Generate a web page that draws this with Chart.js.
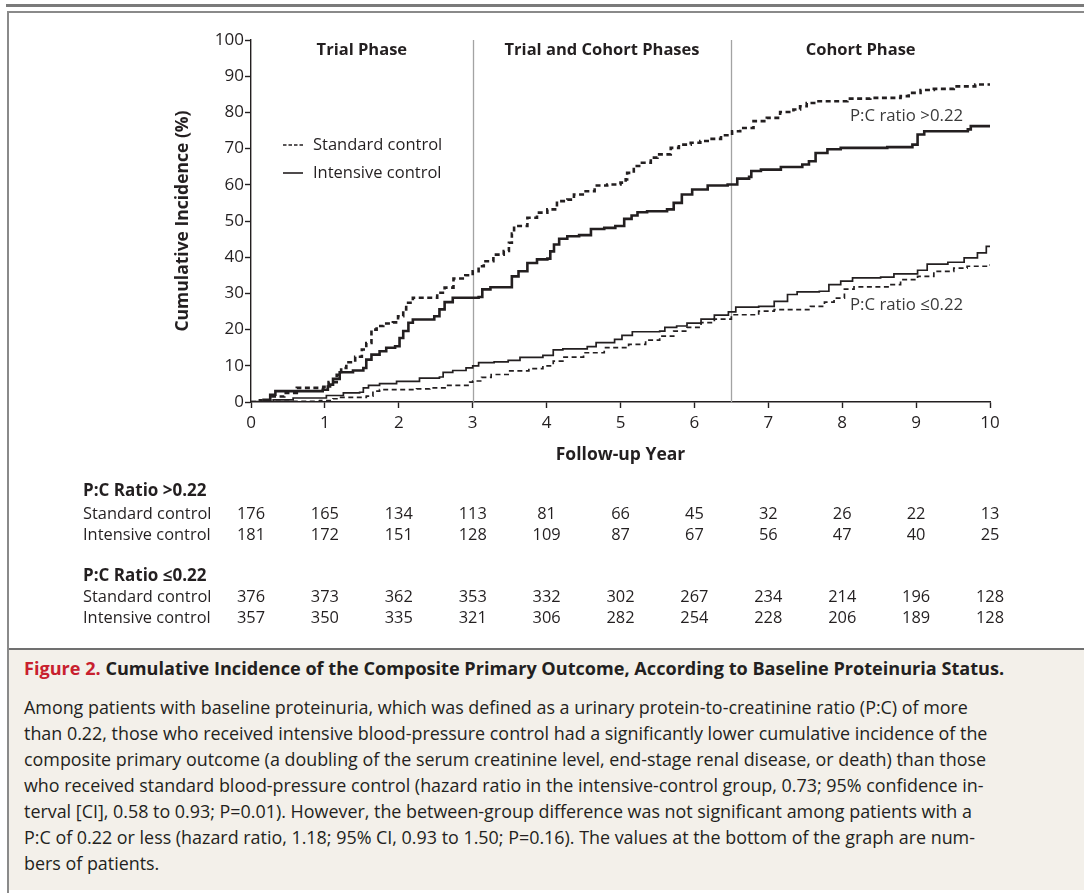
<!DOCTYPE html>
<html>
<head>
<meta charset="utf-8">
<script src="https://cdn.jsdelivr.net/npm/chart.js@4.4.1/dist/chart.umd.min.js"></script>
<style>
  html, body { margin: 0; padding: 0; background: #fff; }
  body { width: 1084px; height: 893px; position: relative; overflow: hidden; font-family: "Open Sans", "Noto Sans", sans-serif; color: #231f20; }
  #topline { position: absolute; left: 6px; right: 0; top: 4px; height: 3px; background: #7a7a7a; }
  #frame { position: absolute; left: 7px; right: -4px; top: 11px; bottom: -4px; border-left: 2px solid #8a8a8a; border-top: 2px solid #8a8a8a; }
  #chartbox { position: absolute; left: 9px; top: 14px; width: 1075px; height: 634px; }
  #caption { position: absolute; left: 9px; right: 0; top: 648px; bottom: 3px; background: #f3f0ea; border-top: 2px solid #707070; }
  #caption div { position: absolute; left: 15px; white-space: nowrap; font-size: 17.9px; line-height: 26px; }
  #caption .title { font-weight: bold; font-size: 18.1px; }
  #caption .fig { color: #c8202e; }
</style>
</head>
<body>
<div id="topline"></div>
<div id="frame"></div>
<div id="chartbox"><canvas id="kmChart" width="1075" height="634"></canvas></div>
<div id="caption">
  <div class="title" style="top:5px"><span class="fig">Figure 2.</span> Cumulative Incidence of the Composite Primary Outcome, According to Baseline Proteinuria Status.</div>
  <div style="top:44px">Among patients with baseline proteinuria, which was defined as a urinary protein-to-creatinine ratio (P:C) of more</div>
  <div style="top:70px">than 0.22, those who received intensive blood-pressure control had a significantly lower cumulative incidence of the</div>
  <div style="top:96px">composite primary outcome (a doubling of the serum creatinine level, end-stage renal disease, or death) than those</div>
  <div style="top:122px">who received standard blood-pressure control (hazard ratio in the intensive-control group, 0.73; 95% confidence in-</div>
  <div style="top:148px">terval [CI], 0.58 to 0.93; P=0.01). However, the between-group difference was not significant among patients with a</div>
  <div style="top:174px">P:C of 0.22 or less (hazard ratio, 1.18; 95% CI, 0.93 to 1.50; P=0.16). The values at the bottom of the graph are num-</div>
  <div style="top:200px">bers of patients.</div>
</div>
<script>
// Follow-up years shown on the x axis and in the at-risk table
const yearTicks = [0, 1, 2, 3, 4, 5, 6, 7, 8, 9, 10];
const phaseBreaks = [3, 6.5];
const phaseNames = ['Trial Phase', 'Trial and Cohort Phases', 'Cohort Phase'];
const phaseCenters = [1.5, 4.75, 8.25];

// P:C ratio >0.22, standard control (dashed, heavy)
const highStdYears = [0, 0.12, 0.26, 0.45, 0.62, 0.98, 1.05, 1.16, 1.22, 1.29, 1.41, 1.50, 1.56, 1.63, 1.70, 1.79, 1.92, 1.99, 2.06, 2.10, 2.19, 2.52, 2.62, 2.74, 2.90, 3.00, 3.08, 3.15, 3.28, 3.42, 3.49, 3.53, 3.56, 3.74, 3.87, 4.01, 4.14, 4.28, 4.37, 4.51, 4.65, 4.82, 5.00, 5.07, 5.09, 5.18, 5.29, 5.41, 5.50, 5.68, 5.79, 5.95, 6.08, 6.20, 6.36, 6.51, 6.62, 6.80, 6.98, 7.16, 7.34, 7.43, 7.52, 7.66, 8.07, 8.38, 8.79, 8.90, 9.06, 9.24, 9.51, 9.80, 10.0];
const highStdVals = [0, 0.5, 1.5, 2.5, 3.9, 4.2, 5.5, 7.5, 9.4, 11.0, 12.5, 14.5, 16.3, 20.0, 21.0, 21.7, 22.0, 23.7, 25.6, 27.4, 28.8, 30.2, 31.6, 34.1, 35.0, 36.1, 37.5, 38.9, 40.7, 41.7, 44.0, 46.5, 48.6, 50.9, 52.3, 53.2, 55.5, 55.9, 57.3, 58.2, 59.8, 60.1, 60.6, 61.5, 63.3, 65.2, 66.1, 67.5, 68.4, 70.2, 71.1, 71.6, 72.1, 72.7, 73.7, 74.8, 75.7, 77.6, 78.5, 80.1, 80.8, 81.7, 82.6, 83.1, 83.8, 84.0, 84.5, 85.4, 86.2, 86.5, 87.2, 87.7, 87.7];

// P:C ratio >0.22, intensive control (solid, heavy)
const highIntYears = [0, 0.17, 0.26, 0.33, 0.97, 1.04, 1.07, 1.11, 1.20, 1.38, 1.52, 1.56, 1.63, 1.74, 1.83, 1.95, 2.01, 2.06, 2.13, 2.19, 2.48, 2.55, 2.62, 2.73, 3.08, 3.13, 3.24, 3.49, 3.53, 3.62, 3.74, 3.87, 4.01, 4.05, 4.10, 4.17, 4.28, 4.44, 4.60, 4.78, 4.93, 5.05, 5.15, 5.23, 5.36, 5.63, 5.72, 5.83, 5.97, 6.18, 6.45, 6.58, 6.74, 6.77, 6.90, 7.17, 7.46, 7.55, 7.64, 7.80, 7.98, 8.61, 8.95, 9.02, 9.11, 9.70, 9.74, 10.0];
const highIntVals = [0, 0.6, 2.0, 3.0, 3.4, 4.3, 4.8, 6.4, 8.2, 8.7, 9.4, 11.7, 13.1, 14.0, 15.0, 15.4, 17.7, 19.6, 21.9, 22.8, 23.7, 25.6, 27.6, 28.8, 29.0, 31.1, 31.7, 31.7, 34.7, 36.1, 38.4, 39.4, 39.6, 41.6, 43.5, 45.1, 45.8, 46.1, 47.8, 48.1, 48.6, 50.6, 51.5, 52.4, 52.7, 53.2, 55.0, 57.3, 58.7, 59.8, 60.1, 61.7, 62.2, 63.8, 64.2, 64.9, 65.6, 66.5, 68.8, 69.8, 70.2, 70.4, 71.1, 73.9, 74.8, 75.3, 76.2, 76.4];

// P:C ratio <=0.22, standard control (dashed, light)
const lowStdYears = [0, 0.30, 0.93, 1.11, 1.20, 1.56, 1.65, 1.74, 2.24, 2.42, 2.64, 2.96, 3.00, 3.12, 3.25, 3.48, 3.76, 3.95, 4.09, 4.22, 4.50, 4.78, 5.11, 5.34, 5.53, 5.72, 5.90, 6.09, 6.27, 6.50, 6.87, 7.08, 7.57, 7.76, 7.89, 8.03, 8.16, 8.66, 8.79, 9.02, 9.24, 9.51, 9.69, 10.0];
const lowStdVals = [0, 0.2, 0.4, 0.9, 1.3, 1.6, 3.0, 3.4, 3.6, 3.9, 4.6, 5.5, 5.8, 6.8, 7.6, 8.6, 9.2, 10.0, 11.3, 12.4, 13.6, 15.0, 15.9, 17.1, 18.2, 19.6, 20.6, 21.9, 22.9, 24.1, 25.1, 25.5, 26.4, 27.6, 28.7, 31.2, 31.8, 32.4, 33.8, 34.7, 36.1, 37.0, 37.5, 38.0];

// P:C ratio <=0.22, intensive control (solid, light)
const lowIntYears = [0, 0.30, 0.57, 1.02, 1.25, 1.47, 1.52, 1.59, 1.74, 1.97, 2.28, 2.55, 2.60, 2.73, 2.91, 3.00, 3.08, 3.29, 3.48, 3.64, 3.95, 4.09, 4.22, 4.55, 4.67, 4.92, 5.02, 5.16, 5.53, 5.60, 5.76, 5.90, 6.09, 6.27, 6.46, 6.56, 6.87, 7.08, 7.26, 7.39, 7.69, 7.82, 7.98, 8.14, 8.52, 8.70, 9.02, 9.15, 9.43, 9.65, 9.83, 9.95, 10.0];
const lowIntVals = [0, 0.6, 1.1, 1.8, 2.5, 2.7, 3.9, 4.6, 5.1, 5.7, 6.6, 6.9, 8.2, 8.7, 9.4, 10.0, 10.9, 11.1, 11.5, 12.3, 12.9, 14.4, 14.7, 15.3, 16.4, 17.3, 18.4, 19.4, 19.6, 20.6, 21.0, 21.8, 22.9, 24.0, 24.9, 26.2, 26.4, 27.8, 29.7, 30.4, 30.6, 32.4, 33.4, 34.3, 34.5, 35.4, 36.4, 38.1, 38.6, 39.8, 41.2, 43.0, 43.0];

// Numbers at risk
const highStdRisk = [176, 165, 134, 113, 81, 66, 45, 32, 26, 22, 13];
const highIntRisk = [181, 172, 151, 128, 109, 87, 67, 56, 47, 40, 25];
const lowStdRisk = [376, 373, 362, 353, 332, 302, 267, 234, 214, 196, 128];
const lowIntRisk = [357, 350, 335, 321, 306, 282, 254, 228, 206, 189, 128];

const ink = '#231f20';
const toPoints = (xs, ys) => xs.map((x, i) => ({ x: x, y: ys[i] }));

function curve(label, xs, ys, width, dashed) {
    return {
        label: label,
        data: toPoints(xs, ys),
        borderColor: ink,
        borderWidth: width,
        borderDash: dashed ? [5, 3.5] : [],
        stepped: true,
        fill: false,
        pointRadius: 0
    };
}

// Phase dividers, labels, legend, curve tags and the at-risk table
const decorations = {
    id: 'decorations',
    beforeDatasetsDraw(chart) {
        const ctx = chart.ctx;
        const xs = chart.scales.x;
        const area = chart.chartArea;
        ctx.save();
        ctx.strokeStyle = '#a3a3a3';
        ctx.lineWidth = 1.3;
        phaseBreaks.forEach(b => {
            const px = Math.round(xs.getPixelForValue(b)) + 0.5;
            ctx.beginPath();
            ctx.moveTo(px, area.top);
            ctx.lineTo(px, area.bottom);
            ctx.stroke();
        });
        ctx.restore();
    },
    afterDraw(chart) {
        const ctx = chart.ctx;
        const xs = chart.scales.x;
        ctx.save();
        ctx.fillStyle = ink;
        ctx.textBaseline = 'middle';

        ctx.font = 'bold 16.5px "Open Sans", sans-serif';
        ctx.textAlign = 'center';
        phaseNames.forEach((name, i) => {
            ctx.fillText(name, xs.getPixelForValue(phaseCenters[i]), 36);
        });

        // legend
        ctx.font = '16.5px "Open Sans", sans-serif';
        ctx.textAlign = 'left';
        ctx.strokeStyle = ink;
        ctx.lineWidth = 1.6;
        ctx.setLineDash([3.5, 2]);
        ctx.beginPath(); ctx.moveTo(274, 131); ctx.lineTo(294, 131); ctx.stroke();
        ctx.setLineDash([]);
        ctx.beginPath(); ctx.moveTo(274, 159); ctx.lineTo(294, 159); ctx.stroke();
        ctx.fillText('Standard control', 304, 131);
        ctx.fillText('Intensive control', 304, 159);

        // curve tags
        ctx.fillStyle = '#3a3a3a';
        ctx.font = '16.8px "Open Sans", sans-serif';
        ctx.fillText('P:C ratio >0.22', 841, 102);
        ctx.fillText('P:C ratio \u22640.22', 841, 291);

        // at-risk table
        ctx.fillStyle = ink;
        const rows = [
            { y: 477, head: 'P:C Ratio >0.22' },
            { y: 500, label: 'Standard control', vals: highStdRisk },
            { y: 521, label: 'Intensive control', vals: highIntRisk },
            { y: 562, head: 'P:C Ratio \u22640.22' },
            { y: 583, label: 'Standard control', vals: lowStdRisk },
            { y: 604, label: 'Intensive control', vals: lowIntRisk }
        ];
        rows.forEach(r => {
            ctx.textAlign = 'left';
            if (r.head) {
                ctx.font = 'bold 17px "Open Sans", sans-serif';
                ctx.fillText(r.head, 74, r.y);
                return;
            }
            ctx.font = '16.4px "Open Sans", sans-serif';
            ctx.fillText(r.label, 74, r.y);
            ctx.textAlign = 'center';
            r.vals.forEach((v, i) => {
                ctx.fillText(String(v), xs.getPixelForValue(yearTicks[i]), r.y);
            });
        });
        ctx.restore();
    }
};

const ctxKm = document.getElementById('kmChart').getContext('2d');
const kmChart = new Chart(ctxKm, {
    type: 'line',
    data: {
        datasets: [
            curve('Standard control, P:C >0.22', highStdYears, highStdVals, 2.6, true),
            curve('Intensive control, P:C >0.22', highIntYears, highIntVals, 2.6, false),
            curve('Standard control, P:C \u22640.22', lowStdYears, lowStdVals, 1.7, true),
            curve('Intensive control, P:C \u22640.22', lowIntYears, lowIntVals, 1.7, false)
        ]
    },
    options: {
        responsive: false,
        animation: false,
        devicePixelRatio: 1,
        layout: { padding: { left: 164, top: 26, right: 94, bottom: 182 } },
        plugins: {
            legend: { display: false },
            tooltip: { enabled: false }
        },
        scales: {
            x: {
                type: 'linear',
                min: 0,
                max: 10,
                afterFit: s => { s.height = 64; },
                afterBuildTicks: s => { s.ticks = yearTicks.map(v => ({ value: v })); },
                ticks: { color: ink, font: { size: 17, family: 'Open Sans' }, padding: 5, maxRotation: 0 },
                grid: { drawOnChartArea: false, drawTicks: true, tickLength: 6, tickColor: ink, tickWidth: 1.4 },
                border: { display: true, color: ink, width: 1.4 },
                title: { display: true, text: 'Follow-up Year', color: ink, font: { size: 17.5, weight: 'bold', family: 'Open Sans' }, padding: 0 }
            },
            y: {
                min: 0,
                max: 100,
                afterFit: s => { s.width = 78; },
                ticks: { stepSize: 10, color: ink, font: { size: 17, family: 'Open Sans' }, padding: 1 },
                grid: { drawOnChartArea: false, drawTicks: true, tickLength: 6, tickColor: ink, tickWidth: 1.4 },
                border: { display: true, color: ink, width: 1.4 },
                title: { display: true, text: 'Cumulative Incidence (%)', color: ink, font: { size: 17.5, weight: 'bold', family: 'Open Sans' }, padding: 0 }
            }
        }
    },
    plugins: [decorations]
});
</script>
</body>
</html>
